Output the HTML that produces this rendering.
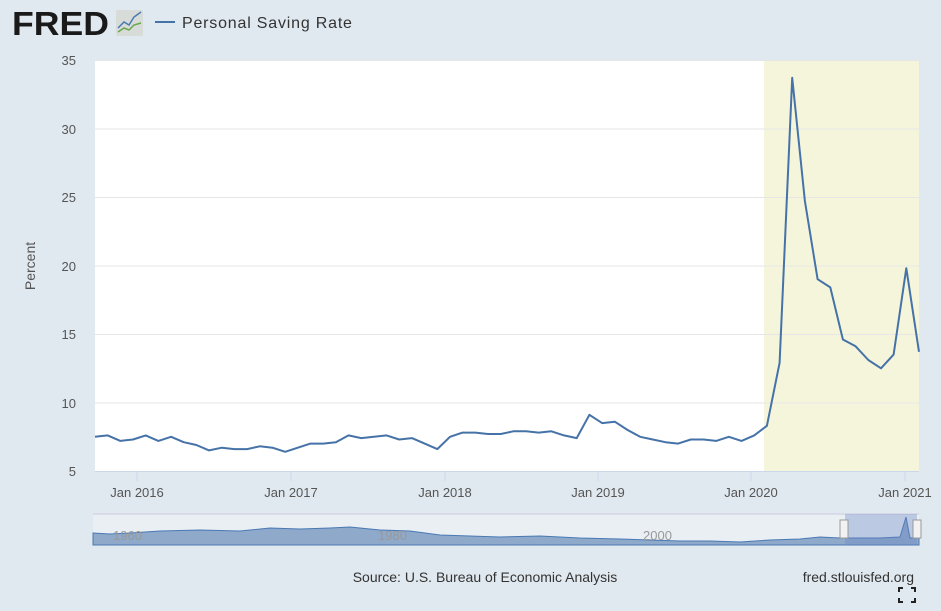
<!DOCTYPE html>
<html><head><meta charset="utf-8"><style>
body{margin:0;width:941px;height:606px;background:#e1e9f0;overflow:hidden;font-family:"Liberation Sans",sans-serif}
</style></head><body>
<svg id="s" width="941" height="606" xmlns="http://www.w3.org/2000/svg" font-family="Liberation Sans, sans-serif">
<text x="12" y="35" font-size="33" font-weight="bold" fill="#1a1a1a" textLength="97" lengthAdjust="spacingAndGlyphs">FRED</text>
<rect x="116" y="10" width="27" height="26" fill="#d8dcd8" rx="2"/>
<polyline points="118,28 124,22 129,25 134,17 141,12" fill="none" stroke="#4a79b4" stroke-width="1.5"/>
<polyline points="118,32 124,28 129,30 134,25 141,23" fill="none" stroke="#6aa84f" stroke-width="1.5"/>
<line x1="155" y1="22" x2="175" y2="22" stroke="#4572a7" stroke-width="2"/>
<text x="182" y="28" font-size="16" fill="#333" letter-spacing="0.8">Personal Saving Rate</text>
<rect x="95" y="60" width="824" height="411" fill="#fff"/>
<rect x="764" y="60" width="155" height="411" fill="#f5f5dc"/>
<g stroke="#e6e6e6" stroke-width="1">
<line x1="95" y1="60.5" x2="919" y2="60.5"/><line x1="95" y1="129" x2="919" y2="129"/><line x1="95" y1="197.5" x2="919" y2="197.5"/><line x1="95" y1="266" x2="919" y2="266"/><line x1="95" y1="334.5" x2="919" y2="334.5"/><line x1="95" y1="403" x2="919" y2="403"/>
</g>
<line x1="95" y1="471.5" x2="919" y2="471.5" stroke="#ccd6eb"/>
<g font-size="13" fill="#555" text-anchor="end">
<text x="76" y="65">35</text><text x="76" y="134">30</text><text x="76" y="202">25</text><text x="76" y="271">20</text><text x="76" y="339">15</text><text x="76" y="408">10</text><text x="76" y="476">5</text>
</g>
<text transform="translate(35,266) rotate(-90)" font-size="14" fill="#555" text-anchor="middle">Percent</text>
<g font-size="13" fill="#555" text-anchor="middle">
<text x="137" y="497">Jan 2016</text><text x="291" y="497">Jan 2017</text><text x="445" y="497">Jan 2018</text><text x="598" y="497">Jan 2019</text><text x="751" y="497">Jan 2020</text><text x="905" y="497">Jan 2021</text>
</g>
<g stroke="#ccd6eb"><line x1="137" y1="471" x2="137" y2="481"/><line x1="291" y1="471" x2="291" y2="481"/><line x1="445" y1="471" x2="445" y2="481"/><line x1="598" y1="471" x2="598" y2="481"/><line x1="751" y1="471" x2="751" y2="481"/><line x1="905" y1="471" x2="905" y2="481"/></g>
<polyline id="L" fill="none" stroke="#4572a7" stroke-width="2" stroke-linejoin="round"/>
<rect x="93" y="514" width="826" height="31" fill="#fff" opacity="0.3"/>
<line x1="93" y1="514" x2="919" y2="514" stroke="#ccd"/>
<path d="M93,533 L110,534 L130,533 L160,531 L200,530 L240,531 L270,528 L300,529 L330,528 L350,527 L380,530 L410,531 L440,535 L470,536 L500,537 L540,536 L580,538 L620,539 L650,540 L680,541 L710,541 L740,542 L770,540 L800,539 L820,537 L840,538 L880,538 L900,537 L906,517 L910,538 L919,538 L919,545 L93,545 Z" fill="#8ea9c9" stroke="#4a79b4" stroke-width="1"/>
<g font-size="13" fill="#999"><text x="113" y="540">1960</text><text x="378" y="540">1980</text><text x="643" y="540">2000</text></g>
<rect x="845" y="514" width="72" height="31" fill="#6685c2" opacity="0.35"/>
<rect x="840" y="520" width="8" height="18" fill="#f2f2f2" stroke="#999"/>
<rect x="913" y="520" width="8" height="18" fill="#f2f2f2" stroke="#999"/>
<text x="485" y="582" font-size="14" fill="#333" text-anchor="middle">Source: U.S. Bureau of Economic Analysis</text>
<text x="914" y="582" font-size="14" fill="#333" text-anchor="end">fred.stlouisfed.org</text>
<g stroke="#222" stroke-width="2" fill="none"><path d="M899,592v-4h4M911,588h4v4M899,598v4h4M911,602h4v-4"/></g>
</svg>
<script>
var v=[7.5,7.6,7.2,7.3,7.6,7.2,7.5,7.1,6.9,6.5,6.7,6.6,6.6,6.8,6.7,6.4,6.7,7.0,7.0,7.1,7.6,7.4,7.5,7.6,7.3,7.4,7.0,6.6,7.5,7.8,7.8,7.7,7.7,7.9,7.9,7.8,7.9,7.6,7.4,9.1,8.5,8.6,8.0,7.5,7.3,7.1,7.0,7.3,7.3,7.2,7.5,7.2,7.6,8.3,12.9,33.7,24.7,19.0,18.4,14.6,14.1,13.1,12.5,13.5,19.8,13.7];
var n=v.length,p=[];for(var i=0;i<n;i++){var x=95+i*(824/(n-1));var y=471-(v[i]-5)*13.7;p.push(x.toFixed(1)+","+y.toFixed(1));}
document.getElementById("L").setAttribute("points",p.join(" "));
</script>
</body></html>
